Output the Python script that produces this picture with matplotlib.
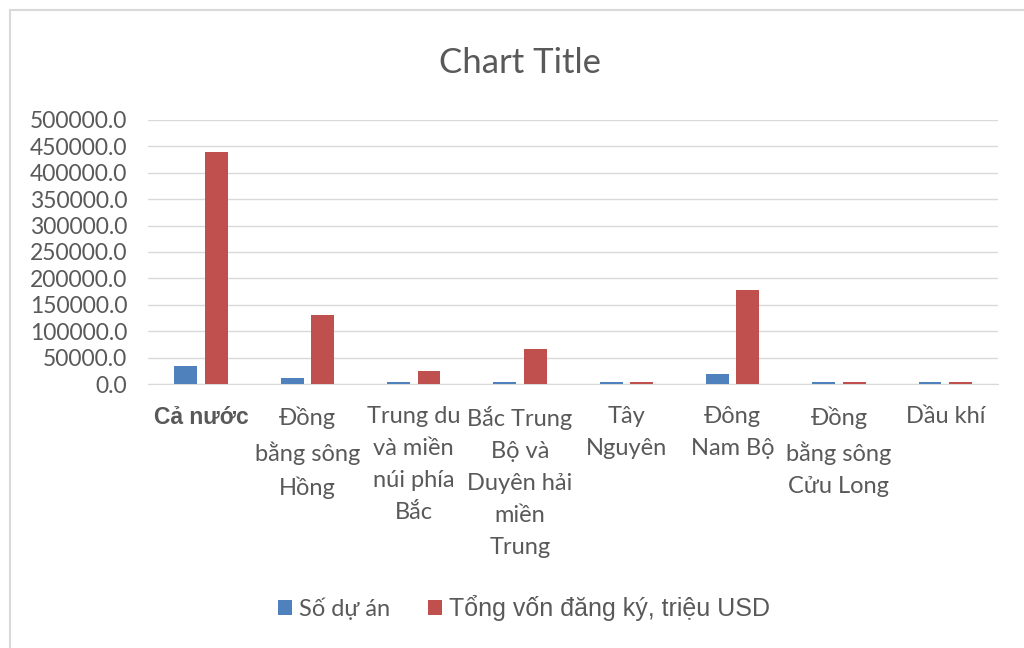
import numpy as np
import matplotlib.pyplot as plt
from matplotlib.lines import Line2D

plt.rcParams['font.family'] = ['Lato', 'Noto Sans', 'DejaVu Sans']

categories = ["Cả nước", "Đồng\nbằng sông\nHồng", "Trung du\nvà miền\nnúi phía\nBắc",
              "Bắc Trung\nBộ và\nDuyên hải\nmiền\nTrung", "Tây\nNguyên", "Đông\nNam Bộ",
              "Đồng\nbằng sông\nCửu Long", "Dầu khí"]
so_du_an = [35000, 11000, 3000, 3000, 3000, 19000, 3000, 3000]
tong_von = [440000, 131000, 25000, 66000, 3000, 178000, 3000, 3000]
series_names = ["Số dự án", "Tổng vốn đăng ký, triệu USD"]
yticks = np.arange(0, 500001, 50000)

blue = '#4f81bd'
red = '#c0504d'
grey = '#595959'

fig = plt.figure(figsize=(10.24, 6.48), dpi=100)
ax = fig.add_axes([0.1445, 0.4074, 0.8305, 0.4076])

x = np.arange(len(categories))
ax.bar(x - 0.143, so_du_an, width=0.215, color=blue, label=series_names[0], zorder=3)
ax.bar(x + 0.143, tong_von, width=0.215, color=red, label=series_names[1], zorder=3)

ax.set_xlim(-0.5, len(categories) - 0.5)
ax.set_ylim(0, 500000)
ax.set_yticks(yticks)
ax.set_yticklabels(["%.1f" % v for v in yticks], fontsize=16.5, color=grey)
ax.yaxis.grid(True, color='#d9d9d9', linewidth=1, zorder=0)
ax.tick_params(axis='y', length=0, pad=15)
ax.tick_params(axis='x', length=0, pad=16)
for s in ['top', 'right', 'left']:
    ax.spines[s].set_visible(False)
ax.spines['bottom'].set_color('#d9d9d9')

ax.set_xticks(x)
ax.set_xticklabels(categories, fontsize=17, color=grey, linespacing=1.65)
ax.get_xticklabels()[0].set_fontfamily(['Liberation Sans', 'DejaVu Sans'])
ax.get_xticklabels()[0].set_fontweight('bold')
ax.get_xticklabels()[0].set_fontsize(16.5)

fig.text(0.508, 0.903, "Chart Title", ha='center', va='center', fontsize=25, color=grey)

leg = fig.legend(loc='center', bbox_to_anchor=(0.512, 0.062), ncol=2, frameon=False,
                 fontsize=17, handlelength=0.6, handleheight=0.6, handletextpad=0.3,
                 columnspacing=1.6)
for t in leg.get_texts():
    t.set_color(grey)
leg.get_texts()[1].set_fontfamily(['Liberation Sans', 'DejaVu Sans'])
leg.get_texts()[1].set_fontsize(18)

# chart border
fig.add_artist(Line2D([10 / 1024, 10 / 1024], [0, 1 - 10 / 648], color='#d9d9d9', lw=1.5))
fig.add_artist(Line2D([10 / 1024, 1], [1 - 10 / 648, 1 - 10 / 648], color='#d9d9d9', lw=1.5))

fig.savefig('out.png', dpi=100)
